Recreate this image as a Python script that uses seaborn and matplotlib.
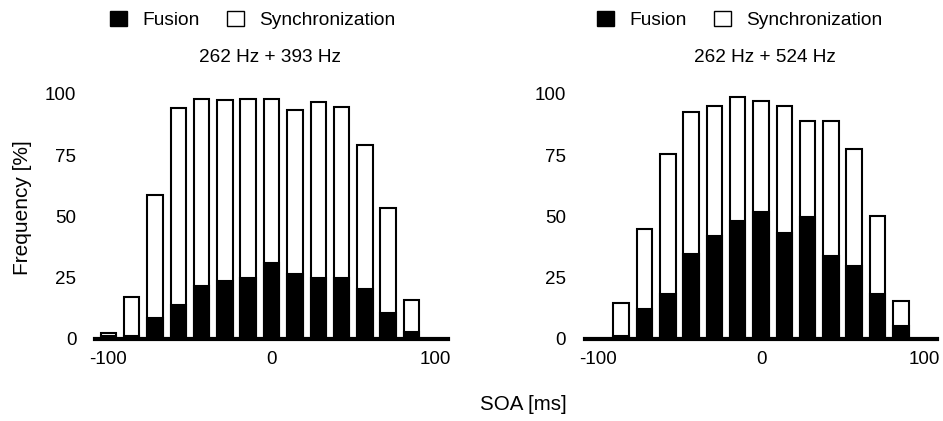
import pandas as pd
import matplotlib.pyplot as plt
import seaborn as sns
from matplotlib.patches import Patch

# SOA bins (ms)
soa = [-100, -85.7, -71.4, -57.1, -42.9, -28.6, -14.3, 0, 14.3, 28.6, 42.9, 57.1, 71.4, 85.7]

# 262 Hz + 393 Hz
fusion_393 = [1, 1, 8.5, 14, 21.5, 23.5, 25, 31, 26.5, 25, 25, 20.5, 10.5, 3]
sync_393 = [1.5, 16, 50, 80, 76.5, 74, 73, 67, 67, 71.5, 69.5, 58.5, 43, 13]

# 262 Hz + 524 Hz
fusion_524 = [0, 1, 12, 18.3, 34.8, 41.8, 48, 51.8, 43, 49.7, 34, 29.8, 18.4, 5.3]
sync_524 = [0, 13.7, 33, 57.1, 57.6, 53.2, 50.5, 45.2, 52, 39.1, 54.8, 47.6, 31.9, 10.3]

titles = ["262 Hz + 393 Hz", "262 Hz + 524 Hz"]

sns.set_style("white")
plt.rcParams['font.family'] = ['Liberation Sans', 'DejaVu Sans']
plt.rcParams['text.color'] = 'black'
plt.rcParams['axes.labelcolor'] = 'black'
plt.rcParams['xtick.color'] = 'black'
plt.rcParams['ytick.color'] = 'black'

fig = plt.figure(figsize=(9.43, 4.21), dpi=100)
ax1 = fig.add_axes([0.101, 0.195, 0.374, 0.594])
ax2 = fig.add_axes([0.620, 0.195, 0.374, 0.594])

panels = [(ax1, fusion_393, sync_393, titles[0], 0.446, 0.496),
          (ax2, fusion_524, sync_524, titles[1], 0.44, 0.51)]

for ax, fus, syn, title, leg_x, tit_x in panels:
    df = pd.DataFrame({"soa": soa, "fusion": fus, "sync": syn})
    df["total"] = df.fusion + df.sync
    sns.barplot(df, x="soa", y="total", native_scale=True, width=0.67,
                color="white", edgecolor="black", linewidth=1.5, saturation=1, ax=ax)
    sns.barplot(df, x="soa", y="fusion", native_scale=True, width=0.67,
                color="black", edgecolor="black", linewidth=1.5, saturation=1, ax=ax)
    ax.set_xlim(-108, 108)
    ax.set_ylim(0, 102)
    ax.set_xticks([-100, 0, 100])
    ax.set_xticklabels(["-100", "0", "100"])
    ax.set_yticks([0, 25, 50, 75, 100])
    ax.tick_params(axis="y", length=0, pad=13.5, labelsize=13.5)
    ax.tick_params(axis="x", length=0, pad=9, labelsize=13.5)
    ax.set_xlabel("")
    ax.set_ylabel("")
    for s in ["top", "right", "left"]:
        ax.spines[s].set_visible(False)
    ax.spines["bottom"].set_linewidth(3)
    ax.spines["bottom"].set_color("black")
    ax.text(tit_x, 1.124, title, transform=ax.transAxes, ha="center", va="center", fontsize=13.7)
    handles = [Patch(facecolor="black", edgecolor="black", label="Fusion"),
               Patch(facecolor="white", edgecolor="black", label="Synchronization")]
    ax.legend(handles=handles, ncol=2, frameon=False, loc="center",
              bbox_to_anchor=(leg_x, 1.276), handlelength=0.9, handleheight=0.9,
              columnspacing=1.4, handletextpad=0.8, fontsize=13.8)

fig.text(0.024, 0.508, "Frequency [%]", rotation=90, ha="center", va="center", fontsize=15)
fig.text(0.555, 0.04, "SOA [ms]", ha="center", va="center", fontsize=14.8)

fig.savefig("out.png", dpi=100)
